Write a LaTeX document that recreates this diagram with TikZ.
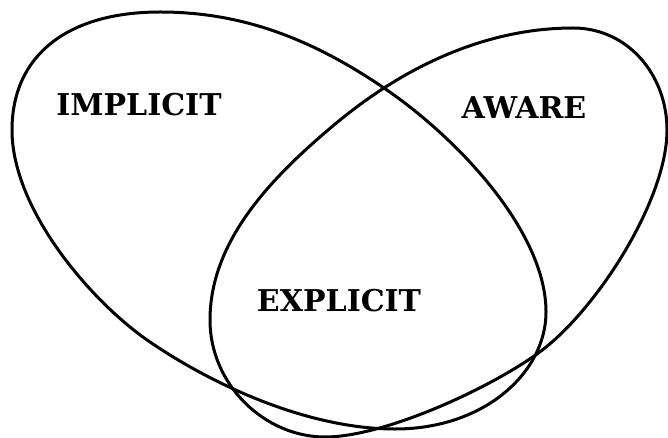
\documentclass[tikz,border=0pt]{standalone}
\usepackage{fontspec}
\newfontfamily\lblfont{DejaVu Serif}
\begin{document}
\begin{tikzpicture}[x=1pt,y=-1pt,
  loop/.style={line width=3pt, line join=round},
  lbl/.style={font=\lblfont\bfseries\fontsize{30}{31}\selectfont, inner sep=0pt}]
\useasboundingbox (0,0) rectangle (668,438);
% IMPLICIT set
\draw[loop] (12,130) .. controls (12,55) and (68,12) .. (160,12)
  .. controls (240,12) and (309.6,37.4) .. (384,88)
  .. controls (458.4,138.6) and (546,232) .. (546,312)
  .. controls (546,372) and (485,429) .. (395,429)
  .. controls (310,429) and (216,387) .. (150,342)
  .. controls (92,302.6) and (12,210) .. (12,130) -- cycle;
% AWARE set
\draw[loop] (573,28) .. controls (628,28) and (667,75) .. (667,130)
  .. controls (667,200) and (597,309) .. (541,351)
  .. controls (493,387) and (385,437) .. (325,437)
  .. controls (265,437) and (210,385) .. (210,320)
  .. controls (210,240) and (272.7,176.4) .. (334,125)
  .. controls (410.6,60.7) and (493,28) .. (573,28) -- cycle;
\node[lbl] (implicit) at (139,105) {IMPLICIT};
\node[lbl] (aware) at (524,108) {AWARE};
\node[lbl] (explicit) at (339,301) {EXPLICIT};
\end{tikzpicture}
\end{document}
